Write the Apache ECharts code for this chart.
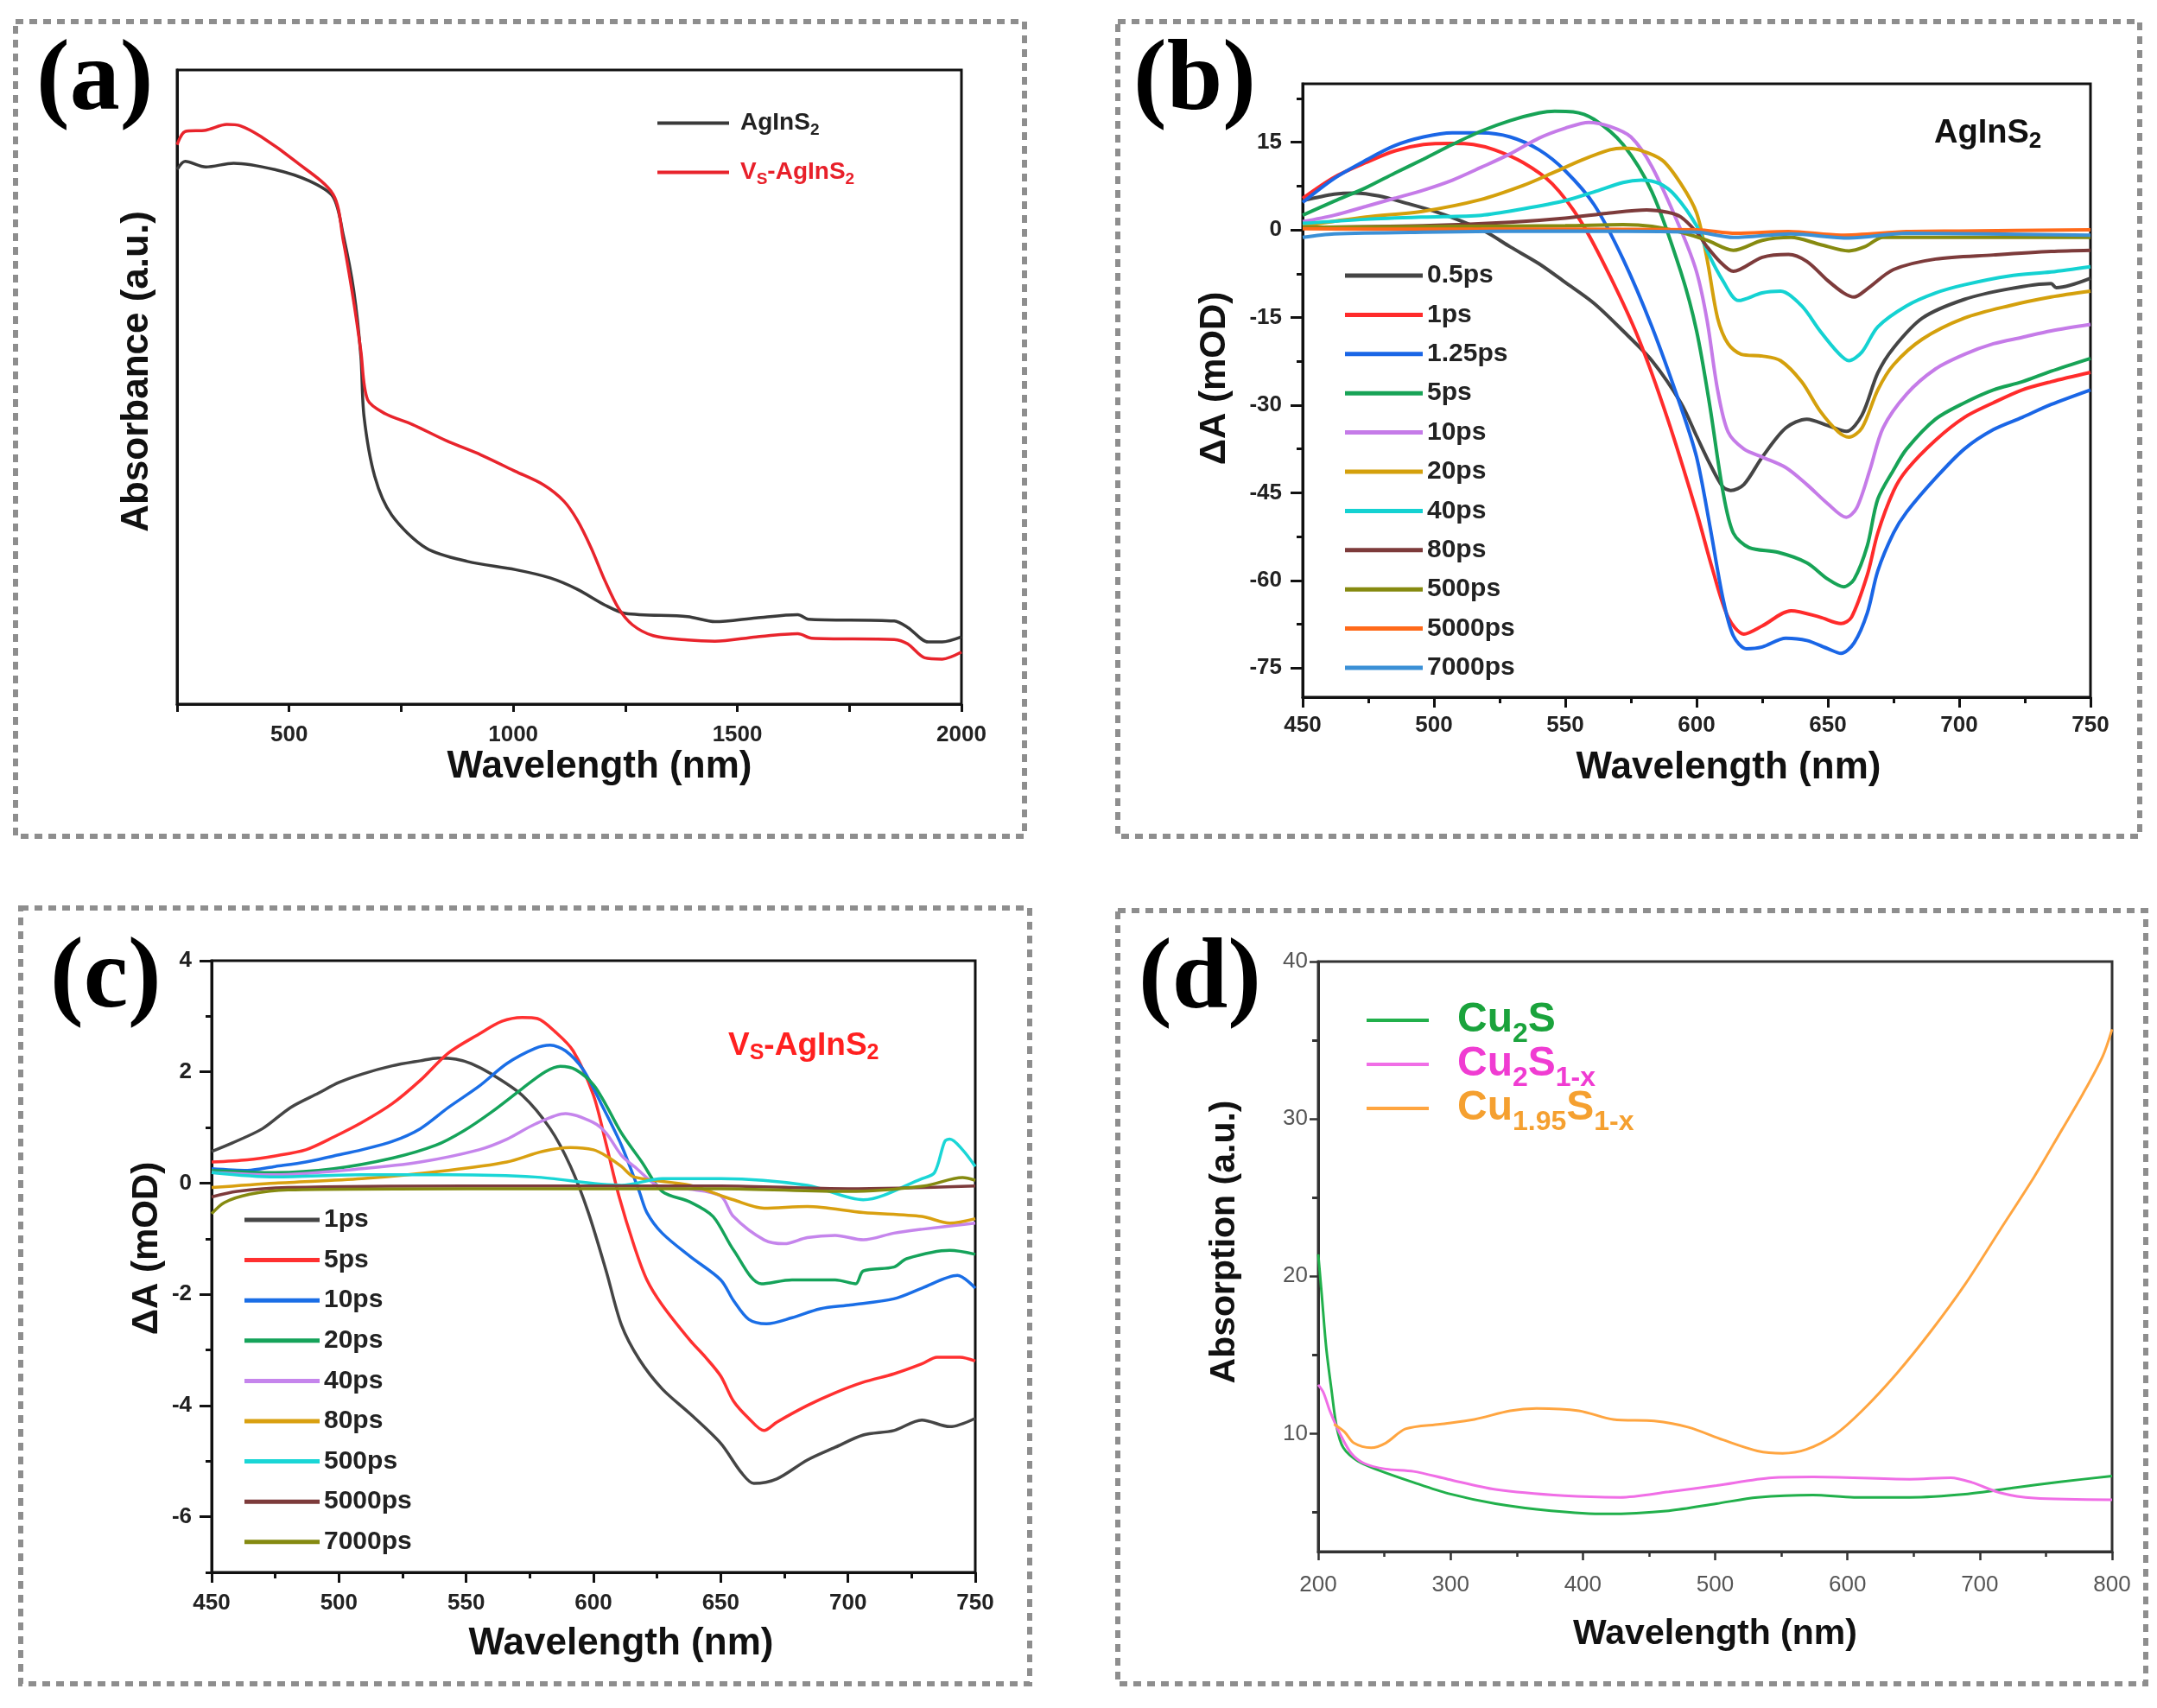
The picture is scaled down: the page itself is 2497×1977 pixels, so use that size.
<!DOCTYPE html>
<html>
<head>
<meta charset="utf-8">
<title>AgInS2 spectra</title>
<script src="https://cdn.jsdelivr.net/npm/echarts@6.0.0/dist/echarts.min.js"></script>
<style>
  html, body { margin: 0; padding: 0; background: #fff; }
  .layer { position: absolute; left: 0; top: 0; width: 2497px; height: 1977px; }
</style>
</head>
<body>
<div id="chartA" class="layer"></div>
<div id="chartB" class="layer"></div>
<div id="chartC" class="layer"></div>
<div id="chartD" class="layer"></div>
<script>
// ---------- (a) steady-state absorbance ----------
var aXLabels = [500, 1000, 1500, 2000];
var aAgInS2 = [[250,0.843],[268,0.856],[314,0.847],[376,0.853],[468,0.843],[545,0.825],[598,0.80],[621,0.739],[644,0.653],[660,0.549],[667,0.454],[691,0.359],[729,0.298],[806,0.246],[898,0.225],[1005,0.212],[1082,0.199],[1143,0.181],[1205,0.156],[1250,0.143],[1389,0.138],[1450,0.130],[1542,0.136],[1635,0.141],[1658,0.134],[1850,0.131],[1880,0.121],[1926,0.098],[1957,0.098],[2000,0.106]];
var aVsAgInS2 = [[250,0.882],[268,0.903],[314,0.905],[361,0.914],[391,0.912],[437,0.895],[514,0.856],[598,0.804],[621,0.730],[644,0.635],[660,0.557],[675,0.480],[714,0.458],[775,0.441],[852,0.415],[928,0.393],[1005,0.367],[1067,0.346],[1113,0.320],[1143,0.290],[1174,0.246],[1205,0.194],[1235,0.151],[1266,0.125],[1312,0.108],[1389,0.101],[1450,0.099],[1542,0.106],[1635,0.111],[1666,0.104],[1850,0.102],[1880,0.095],[1918,0.073],[1957,0.071],[2000,0.082]];

// ---------- (b) transient absorption, AgInS2 ----------
var bNames = ['0.5ps', '1ps', '1.25ps', '5ps', '10ps', '20ps', '40ps', '80ps', '500ps', '5000ps', '7000ps'];
var bYLabels = [15, 0, -15, -30, -45, -60, -75];
var bYMinor = [22.5, 7.5, -7.5, -22.5, -37.5, -52.5, -67.5];
var b05 = [[450,5.0],[462,6.1],[470,6.3],[479,5.8],[490,4.5],[500,3.2],[511,1.4],[520,-0.4],[529,-2.9],[540,-5.8],[550,-9.0],[561,-12.6],[572,-17.3],[583,-22.4],[594,-29.6],[600,-35.3],[605,-40.0],[610,-44.0],[613,-44.6],[618,-43.6],[625,-38.9],[634,-33.9],[642,-32.4],[650,-33.5],[657,-34.5],[663,-31.7],[669,-24.5],[675,-20.2],[686,-15.1],[702,-11.9],[719,-10.1],[735,-9.2],[737,-9.9],[750,-8.3]];
var b1 = [[450,5.4],[462,9.0],[474,11.5],[485,13.5],[496,14.6],[507,14.8],[515,14.6],[523,13.7],[534,11.5],[545,7.9],[556,1.4],[567,-7.9],[578,-18.7],[589,-32.4],[600,-48.3],[606,-58.0],[612,-66.3],[618,-69.2],[625,-67.8],[636,-65.2],[647,-66.3],[655,-67.4],[659,-66.3],[665,-59.1],[669,-51.9],[675,-44.7],[680,-41.1],[691,-36.0],[702,-32.1],[713,-29.6],[724,-27.4],[735,-26.0],[750,-24.4]];
var b125 = [[450,4.7],[462,8.8],[474,11.9],[485,14.4],[496,15.9],[507,16.6],[518,16.6],[529,15.9],[540,13.7],[550,10.1],[561,4.3],[572,-5.0],[583,-16.6],[594,-30.3],[600,-38.9],[605,-50.5],[610,-63.0],[614,-69.5],[619,-71.7],[625,-71.4],[634,-69.9],[642,-70.3],[650,-71.7],[655,-72.5],[660,-70.7],[665,-65.6],[669,-58.4],[675,-51.9],[680,-48.3],[691,-42.5],[702,-37.5],[713,-34.2],[724,-32.1],[735,-29.9],[750,-27.4]];
var b5 = [[450,2.5],[462,4.9],[474,7.2],[485,9.7],[496,12.1],[507,14.6],[518,16.9],[529,18.7],[540,20.0],[546,20.3],[553,20.2],[561,18.9],[572,14.6],[583,6.5],[594,-7.2],[600,-17.3],[605,-30.0],[610,-44.7],[614,-51.9],[620,-54.4],[631,-55.2],[642,-57.0],[650,-59.8],[656,-61.1],[660,-59.8],[665,-54.1],[669,-46.1],[675,-41.1],[680,-37.5],[691,-32.4],[702,-29.6],[713,-27.4],[724,-26.0],[735,-24.2],[750,-22.0]];
var b10 = [[450,1.4],[462,2.5],[474,4.0],[485,5.4],[496,6.8],[507,8.5],[518,10.7],[529,13.0],[540,15.7],[550,17.4],[559,18.4],[567,17.7],[575,15.9],[583,10.8],[594,0],[600,-7.2],[604,-15.5],[608,-27.4],[612,-34.6],[618,-37.5],[625,-38.9],[634,-40.7],[642,-43.6],[650,-46.9],[657,-49.2],[661,-47.6],[666,-41.1],[671,-33.9],[680,-28.1],[691,-23.8],[702,-21.3],[713,-19.5],[724,-18.4],[735,-17.3],[750,-16.2]];
var b20 = [[450,0.7],[474,2.2],[496,3.2],[518,5.2],[534,7.6],[545,9.7],[556,11.9],[567,13.7],[572,14.0],[578,13.7],[587,11.9],[594,7.9],[600,2.9],[604,-5.0],[608,-15.1],[612,-19.5],[617,-21.3],[625,-21.6],[632,-22.4],[640,-26.0],[647,-31.0],[654,-34.6],[658,-35.5],[663,-33.9],[669,-27.4],[675,-23.1],[686,-18.7],[702,-15.1],[719,-13.0],[735,-11.5],[750,-10.5]];
var b40 = [[450,1.1],[474,1.8],[496,2.2],[518,2.5],[534,3.6],[550,5.0],[561,6.5],[572,8.1],[579,8.5],[586,7.9],[592,5.8],[600,0.7],[604,-3.6],[610,-8.7],[616,-12.1],[625,-10.8],[632,-10.5],[640,-13.0],[647,-17.3],[654,-21.1],[658,-22.4],[663,-20.9],[669,-16.6],[680,-13.0],[691,-10.8],[702,-9.4],[719,-7.9],[735,-7.2],[750,-6.3]];
var b80 = [[450,0.4],[496,0.7],[529,1.3],[550,2.0],[567,2.9],[581,3.4],[589,3.0],[594,2.2],[600,-0.4],[604,-2.9],[609,-5.5],[614,-7.1],[625,-4.7],[635,-4.2],[642,-5.4],[650,-8.7],[656,-10.8],[660,-11.5],[665,-10.1],[675,-6.8],[691,-5.0],[713,-4.3],[735,-3.7],[750,-3.5]];
var b500 = [[450,0.4],[507,0.6],[550,0.7],[572,0.9],[583,0.6],[594,-0.4],[604,-1.8],[614,-3.5],[625,-1.8],[636,-1.3],[647,-2.5],[658,-3.6],[664,-2.9],[671,-1.3],[691,-1.3],[750,-1.3]];
var b5000 = [[450,0.2],[500,0.1],[550,0.1],[600,0.0],[615,-0.6],[635,-0.3],[655,-0.9],[680,-0.3],[700,-0.2],[750,0.0]];
var b7000 = [[450,-1.3],[462,-0.7],[496,-0.4],[550,-0.2],[600,-0.4],[614,-1.3],[636,-0.7],[658,-1.4],[680,-0.6],[750,-0.9]];
var bData = [b05, b1, b125, b5, b10, b20, b40, b80, b500, b5000, b7000];

// ---------- (c) transient absorption, Vs-AgInS2 ----------
var cNames = ['1ps', '5ps', '10ps', '20ps', '40ps', '80ps', '500ps', '5000ps', '7000ps'];
var cYLabels = [4, 2, 0, -2, -4, -6];
var cYMinor = [3, 1, -1, -3, -5, -7];
var c1 = [[450,0.57],[458,0.72],[470,0.98],[481,1.36],[492,1.62],[500,1.81],[509,1.96],[521,2.11],[532,2.2],[539,2.25],[546,2.23],[552,2.15],[560,1.96],[572,1.58],[583,0.98],[591,0.3],[598,-0.53],[605,-1.58],[611,-2.55],[618,-3.17],[627,-3.7],[638,-4.15],[650,-4.68],[658,-5.2],[663,-5.4],[672,-5.32],[684,-4.98],[695,-4.75],[706,-4.53],[718,-4.45],[729,-4.26],[740,-4.38],[750,-4.23]];
var c5 = [[450,0.38],[464,0.42],[475,0.49],[487,0.6],[498,0.83],[509,1.09],[521,1.43],[532,1.85],[543,2.34],[555,2.68],[564,2.91],[572,2.98],[578,2.96],[585,2.72],[592,2.38],[600,1.58],[605,0.7],[610,-0.23],[616,-1.13],[621,-1.74],[627,-2.19],[638,-2.83],[644,-3.13],[650,-3.47],[655,-3.92],[661,-4.23],[667,-4.45],[672,-4.3],[684,-4.0],[695,-3.77],[706,-3.58],[718,-3.43],[729,-3.25],[735,-3.13],[744,-3.13],[750,-3.2]];
var c10 = [[450,0.26],[464,0.23],[475,0.3],[487,0.38],[498,0.49],[509,0.6],[521,0.75],[532,0.98],[543,1.36],[555,1.74],[566,2.15],[577,2.42],[583,2.48],[589,2.38],[596,2.04],[603,1.43],[611,0.68],[618,-0.15],[621,-0.53],[627,-0.9],[638,-1.32],[650,-1.74],[655,-2.11],[661,-2.45],[668,-2.53],[678,-2.42],[689,-2.26],[701,-2.19],[718,-2.08],[729,-1.89],[743,-1.66],[750,-1.89]];
var c20 = [[450,0.23],[475,0.19],[498,0.26],[521,0.45],[538,0.68],[549,0.94],[560,1.28],[572,1.7],[581,2.0],[587,2.1],[593,2.04],[600,1.77],[605,1.4],[611,0.9],[619,0.38],[627,-0.15],[638,-0.34],[647,-0.6],[655,-1.2],[666,-1.81],[678,-1.74],[695,-1.74],[703,-1.81],[706,-1.58],[718,-1.51],[723,-1.36],[740,-1.21],[750,-1.28]];
var c40 = [[450,0.19],[475,0.15],[509,0.26],[532,0.38],[555,0.6],[566,0.79],[577,1.06],[589,1.25],[600,1.09],[605,0.9],[611,0.5],[616,0.3],[627,-0.08],[638,-0.11],[650,-0.23],[655,-0.6],[667,-1.02],[675,-1.09],[684,-0.98],[695,-0.94],[706,-1.02],[718,-0.9],[729,-0.83],[750,-0.72]];
var c80 = [[450,-0.08],[475,0],[509,0.08],[543,0.23],[566,0.38],[580,0.57],[591,0.64],[600,0.6],[605,0.49],[611,0.3],[616,0.11],[638,-0.04],[655,-0.3],[667,-0.45],[684,-0.42],[706,-0.53],[729,-0.6],[740,-0.72],[750,-0.64]];
var c500 = [[450,0.19],[475,0.11],[509,0.15],[543,0.15],[577,0.11],[611,-0.04],[627,0.08],[650,0.08],[684,-0.04],[706,-0.3],[729,0.08],[734,0.19],[738,0.75],[740,0.79],[745,0.6],[750,0.3]];
var c5000 = [[450,-0.25],[460,-0.15],[480,-0.08],[550,-0.05],[650,-0.05],[700,-0.1],[750,-0.05]];
var c7000 = [[450,-0.55],[455,-0.35],[465,-0.2],[480,-0.12],[550,-0.1],[600,-0.1],[650,-0.1],[700,-0.15],[730,-0.05],[745,0.1],[750,0.05]];
var cData = [c1, c5, c10, c20, c40, c80, c500, c5000, c7000];

// ---------- (d) copper sulfide absorption ----------
var dNames = ['Cu2S', 'Cu2S1-x', 'Cu1.95S1-x'];
var dYLabels = [10, 20, 30, 40];
var dYMinor = [5, 15, 25, 35];
var dCu2S = [[200,21.4],[202.6,18.9],[206,15.5],[210,12.8],[214,10.4],[219,9.1],[230,8.25],[245,7.7],[272,6.9],[298,6.2],[334,5.55],[376,5.1],[418,4.9],[465,5.1],[501,5.55],[532,5.95],[574,6.1],[605,5.95],[647,5.95],[689,6.15],[725,6.55],[762,6.95],[800,7.3]];
var dCu2S1x = [[200,13.1],[204,12.6],[209,11.4],[217,9.9],[225,8.75],[235,8.1],[251,7.75],[272,7.6],[298,7.1],[334,6.45],[386,6.05],[428,5.95],[465,6.3],[501,6.7],[543,7.2],[574,7.25],[647,7.1],[678,7.2],[694,6.9],[715,6.25],[741,5.9],[800,5.8]];
var dCu195 = [[212,10.6],[220,10.1],[227,9.4],[240,9.1],[251,9.4],[266,10.3],[292,10.6],[318,10.9],[345,11.45],[365,11.6],[397,11.45],[423,10.9],[454,10.8],[480,10.4],[506,9.6],[532,8.9],[551,8.75],[569,9.0],[590,9.9],[611,11.45],[637,13.8],[663,16.5],[689,19.5],[715,22.9],[741,26.3],[762,29.3],[778,31.6],[793,34.0],[800,35.7]];
var dData = [dCu2S, dCu2S1x, dCu195];

// ---------- styles ----------
var FONT = '"Liberation Sans", Arial, sans-serif';
var bColors = ['#454545', '#ff2b2b', '#1a66e6', '#17a356', '#c57be8', '#d4a00c', '#14d2d2', '#7d3b3b', '#868a10', '#ff6a1a', '#3b90d6'];
var cColors = ['#454545', '#ff3030', '#1a6ee6', '#15a35a', '#c585ec', '#d9a010', '#1ad6d6', '#7d3b3b', '#858a10'];
var dColors = ['#21b04b', '#f06ee6', '#ffa540'];

function frameRect(x, y, w, h) {
  return {
    type: 'rect',
    silent: true,
    z: -1,
    shape: { x: x, y: y, width: w, height: h },
    style: { fill: 'none', stroke: '#8e8e8e', lineWidth: 6, lineDash: [9, 7] }
  };
}

function panelTag(text, x, y) {
  return {
    type: 'text',
    x: x,
    y: y,
    silent: true,
    style: {
      text: text,
      font: 'bold 116px "Liberation Serif", "Times New Roman", serif',
      fill: '#000',
      verticalAlign: 'top'
    }
  };
}

function buildGrid(left, top, width, height, color) {
  return {
    left: left, top: top, width: width, height: height,
    show: true, borderColor: color || '#111', borderWidth: 3,
    containLabel: false
  };
}

function buildAxisLine(color) {
  return { onZero: false, lineStyle: { color: color || '#111', width: 3 } };
}

function buildAxisLabel(margin, extra) {
  var s = { color: '#222', fontSize: 26, fontWeight: 'bold', fontFamily: FONT, margin: margin };
  for (var k in extra) { s[k] = extra[k]; }
  return s;
}

function nameStyle(size, padding) {
  return { fontSize: size, fontWeight: 'bold', color: '#111', fontFamily: FONT, padding: padding || 0 };
}

// second, label-less y axis that only carries the short minor ticks
function minorYAxis(min, max, values, color) {
  return {
    type: 'value', min: min, max: max, position: 'left',
    axisLine: { show: false },
    axisTick: { length: 7, customValues: values, lineStyle: { color: color || '#111', width: 3 } },
    axisLabel: { show: false },
    splitLine: { show: false }
  };
}

function lineSeries(name, data, color, width) {
  return {
    name: name,
    type: 'line',
    data: data,
    symbol: 'none',
    showSymbol: false,
    smooth: 0.3,
    lineStyle: { color: color, width: width },
    itemStyle: { color: color },
    emphasis: { disabled: true }
  };
}

// ---------- (a) ----------
var chartA = echarts.init(document.getElementById('chartA'));
chartA.setOption({
  animation: false,
  textStyle: { fontFamily: FONT },
  grid: buildGrid(205, 81, 908, 734),
  xAxis: {
    type: 'value', min: 250, max: 2000, interval: 250,
    axisLine: buildAxisLine(),
    axisTick: { length: 9, lineStyle: { color: '#111', width: 3 } },
    axisLabel: buildAxisLabel(23, {
      formatter: function (v) { return aXLabels.indexOf(v) >= 0 ? String(v) : ''; }
    }),
    splitLine: { show: false },
    name: 'Wavelength (nm)', nameLocation: 'middle', nameGap: 51,
    nameTextStyle: nameStyle(44, [0, 0, 0, 70])
  },
  yAxis: {
    type: 'value', min: 0, max: 1,
    axisLine: { show: true, lineStyle: { color: '#111', width: 3 } },
    axisTick: { show: false },
    axisLabel: { show: false },
    splitLine: { show: false },
    name: 'Absorbance (a.u.)', nameLocation: 'middle', nameRotate: 90, nameGap: 24,
    nameTextStyle: nameStyle(44, [0, 0, 0, 36])
  },
  legend: {
    data: ['AgInS2', 'VS-AgInS2'],
    orient: 'vertical', left: 761, top: 125, padding: 0,
    icon: 'rect', itemWidth: 83, itemHeight: 4, itemGap: 22,
    selectedMode: false,
    formatter: function (name) {
      return name === 'AgInS2' ? '{k|AgInS}{ks|2}' : '{r0|V}{rs|S}{r|-AgInS}{rs|2}';
    },
    textStyle: {
      rich: {
        k: { fontSize: 28, lineHeight: 28, fontWeight: 'bold', color: '#222', fontFamily: FONT, padding: [0, 0, 0, 8] },
        ks: { fontSize: 19, lineHeight: 19, fontWeight: 'bold', color: '#222', fontFamily: FONT, padding: [16, 0, 0, 0] },
        r0: { fontSize: 28, lineHeight: 28, fontWeight: 'bold', color: '#e8202a', fontFamily: FONT, padding: [0, 0, 0, 8] },
        r: { fontSize: 28, lineHeight: 28, fontWeight: 'bold', color: '#e8202a', fontFamily: FONT },
        rs: { fontSize: 19, lineHeight: 19, fontWeight: 'bold', color: '#e8202a', fontFamily: FONT, padding: [16, 0, 0, 0] }
      }
    }
  },
  graphic: [frameRect(18, 25, 1168, 943), panelTag('(a)', 42, 38)],
  series: [
    lineSeries('AgInS2', aAgInS2, '#3a3a3a', 3.5),
    lineSeries('VS-AgInS2', aVsAgInS2, '#e8242c', 3.5)
  ]
});

// ---------- (b) ----------
var chartB = echarts.init(document.getElementById('chartB'));
chartB.setOption({
  animation: false,
  textStyle: { fontFamily: FONT },
  grid: buildGrid(1508, 97, 912, 710),
  xAxis: {
    type: 'value', min: 450, max: 750, interval: 50,
    axisLine: buildAxisLine(),
    axisTick: { length: 12, lineStyle: { color: '#111', width: 3 } },
    minorTick: { show: true, splitNumber: 2, length: 7, lineStyle: { color: '#111', width: 3 } },
    axisLabel: buildAxisLabel(20),
    splitLine: { show: false },
    name: 'Wavelength (nm)', nameLocation: 'middle', nameGap: 60,
    nameTextStyle: nameStyle(44, [0, 0, 0, 74])
  },
  yAxis: [{
    type: 'value', min: -80, max: 25,
    axisLine: { show: true, lineStyle: { color: '#111', width: 3 } },
    axisTick: { length: 14, customValues: bYLabels, lineStyle: { color: '#111', width: 3 } },
    axisLabel: buildAxisLabel(24, { customValues: bYLabels }),
    splitLine: { show: false },
    name: 'ΔA (mOD)', nameLocation: 'middle', nameRotate: 90, nameGap: 81,
    nameTextStyle: nameStyle(42, [0, 0, 0, 28])
  }, minorYAxis(-80, 25, bYMinor)],
  legend: {
    data: bNames,
    orient: 'vertical', left: 1557, top: 304, padding: 0,
    icon: 'rect', itemWidth: 90, itemHeight: 5, itemGap: 15.4,
    selectedMode: false,
    textStyle: { fontSize: 30, lineHeight: 30, fontWeight: 'bold', color: '#222', fontFamily: FONT }
  },
  graphic: [
    frameRect(1294, 25, 1183, 943),
    panelTag('(b)', 1312, 38),
    {
      type: 'text', x: 2239, y: 136, silent: true,
      style: {
        text: '{b|AgInS}{s|2}',
        verticalAlign: 'top',
        rich: {
          b: { fontSize: 38, lineHeight: 38, fontWeight: 'bold', fill: '#111', fontFamily: FONT },
          s: { fontSize: 26, lineHeight: 26, fontWeight: 'bold', fill: '#111', fontFamily: FONT, padding: [18, 0, 0, 0] }
        }
      }
    }
  ],
  series: bNames.map(function (n, i) { return lineSeries(n, bData[i], bColors[i], 4); })
});

// ---------- (c) ----------
var chartC = echarts.init(document.getElementById('chartC'));
chartC.setOption({
  animation: false,
  textStyle: { fontFamily: FONT },
  grid: buildGrid(245, 1112, 884, 708),
  xAxis: {
    type: 'value', min: 450, max: 750, interval: 50,
    axisLine: buildAxisLine(),
    axisTick: { length: 12, lineStyle: { color: '#111', width: 3 } },
    minorTick: { show: true, splitNumber: 2, length: 7, lineStyle: { color: '#111', width: 3 } },
    axisLabel: buildAxisLabel(23),
    splitLine: { show: false },
    name: 'Wavelength (nm)', nameLocation: 'middle', nameGap: 61,
    nameTextStyle: nameStyle(44, [0, 0, 0, 64])
  },
  yAxis: [{
    type: 'value', min: -7, max: 4,
    axisLine: { show: true, lineStyle: { color: '#111', width: 3 } },
    axisTick: { length: 14, customValues: cYLabels, lineStyle: { color: '#111', width: 3 } },
    axisLabel: buildAxisLabel(23, { customValues: cYLabels }),
    splitLine: { show: false },
    name: 'ΔA (mOD)', nameLocation: 'middle', nameRotate: 90, nameGap: 54,
    nameTextStyle: nameStyle(42, [0, 0, 0, 42])
  }, minorYAxis(-7, 4, cYMinor)],
  legend: {
    data: cNames,
    orient: 'vertical', left: 283, top: 1397, padding: 0,
    icon: 'rect', itemWidth: 87, itemHeight: 5, itemGap: 16.6,
    selectedMode: false,
    textStyle: { fontSize: 30, lineHeight: 30, fontWeight: 'bold', color: '#222', fontFamily: FONT }
  },
  graphic: [
    frameRect(24, 1051, 1168, 898),
    panelTag('(c)', 58, 1077),
    {
      type: 'text', x: 843, y: 1192, silent: true,
      style: {
        text: '{b|V}{s|S}{b|-AgInS}{s|2}',
        verticalAlign: 'top',
        rich: {
          b: { fontSize: 37, lineHeight: 37, fontWeight: 'bold', fill: '#ff2020', fontFamily: FONT },
          s: { fontSize: 25, lineHeight: 25, fontWeight: 'bold', fill: '#ff2020', fontFamily: FONT, padding: [18, 0, 0, 0] }
        }
      }
    }
  ],
  series: cNames.map(function (n, i) { return lineSeries(n, cData[i], cColors[i], 3.5); })
});

// ---------- (d) ----------
var dLegendText = {
  'Cu2S': '{g0|Cu}{gs|2}{g|S}',
  'Cu2S1-x': '{m0|Cu}{ms|2}{m|S}{ms|1-x}',
  'Cu1.95S1-x': '{o0|Cu}{os|1.95}{o|S}{os|1-x}'
};
function richSet(color) {
  return [
    { fontSize: 48, lineHeight: 48, fontWeight: 'bold', color: color, fontFamily: FONT, verticalAlign: 'top', padding: [0, 0, 0, 28] },
    { fontSize: 32, lineHeight: 32, fontWeight: 'bold', color: color, fontFamily: FONT, verticalAlign: 'top', padding: [24, 0, 0, 0] },
    { fontSize: 48, lineHeight: 48, fontWeight: 'bold', color: color, fontFamily: FONT, verticalAlign: 'top' }
  ];
}
var gR = richSet('#1aa33c'), mR = richSet('#f03cd2'), oR = richSet('#f5a030');

var chartD = echarts.init(document.getElementById('chartD'));
chartD.setOption({
  animation: false,
  textStyle: { fontFamily: FONT },
  grid: buildGrid(1526, 1113, 919, 683, '#333'),
  xAxis: {
    type: 'value', min: 200, max: 800, interval: 100,
    axisLine: buildAxisLine('#333'),
    axisTick: { length: 10, lineStyle: { color: '#333', width: 2.5 } },
    minorTick: { show: true, splitNumber: 2, length: 6, lineStyle: { color: '#333', width: 2.5 } },
    axisLabel: buildAxisLabel(26, { fontWeight: 'normal', color: '#555' }),
    splitLine: { show: false },
    name: 'Wavelength (nm)', nameLocation: 'middle', nameGap: 75,
    nameTextStyle: nameStyle(41)
  },
  yAxis: [{
    type: 'value', min: 2.5, max: 40,
    axisLine: { show: true, lineStyle: { color: '#333', width: 3 } },
    axisTick: { length: 10, customValues: dYLabels, lineStyle: { color: '#333', width: 2.5 } },
    axisLabel: buildAxisLabel(12, { customValues: dYLabels, fontWeight: 'normal', color: '#555' }),
    splitLine: { show: false },
    name: 'Absorption (a.u.)', nameLocation: 'middle', nameRotate: 90, nameGap: 88,
    nameTextStyle: nameStyle(41, [0, 0, 0, 34])
  }, minorYAxis(2.5, 40, dYMinor, '#333')],
  legend: {
    data: dNames,
    orient: 'vertical', left: 1582, top: 1157, padding: 0,
    icon: 'rect', itemWidth: 72, itemHeight: 4, itemGap: -5,
    selectedMode: false,
    formatter: function (name) { return dLegendText[name]; },
    textStyle: {
      rich: {
        g0: gR[0], gs: gR[1], g: gR[2],
        m0: mR[0], ms: mR[1], m: mR[2],
        o0: oR[0], os: oR[1], o: oR[2]
      }
    }
  },
  graphic: [frameRect(1294, 1054, 1190, 895), panelTag('(d)', 1318, 1078)],
  series: dNames.map(function (n, i) { return lineSeries(n, dData[i], dColors[i], 3); })
});
</script>
</body>
</html>
